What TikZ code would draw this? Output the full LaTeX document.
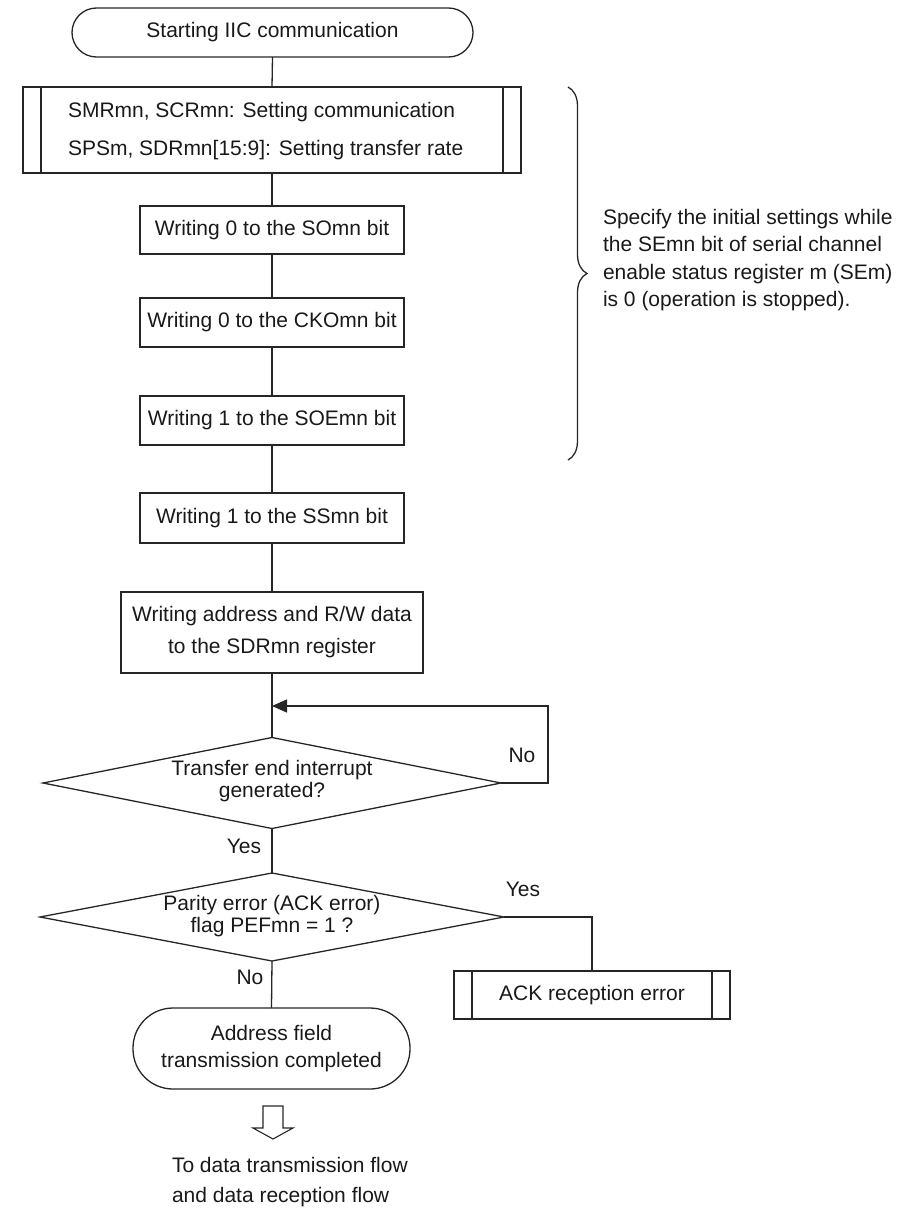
\documentclass[tikz,border=0pt]{standalone}
\usepackage{fontspec}
\setmainfont{Liberation Sans}
\usetikzlibrary{shapes.geometric,arrows.meta,decorations.pathreplacing}
\begin{document}
\begin{tikzpicture}[x=1pt,y=-1pt,
  every node/.style={font=\fontsize{21}{22}\selectfont, inner sep=0pt, outer sep=0pt, text=black!90},
  fl/.style={draw=black!85, line width=1.3pt},
  proc/.style={fl, rectangle},
  term/.style={fl, rectangle},
  dec/.style={fl, diamond},
  conn/.style={fl},
  lbl/.style={font=\fontsize{21}{22}\selectfont}
]
\useasboundingbox (0,0) rectangle (903,1210);

% start terminal
\node[term, rounded corners=24.5pt, minimum width=401pt, minimum height=49pt] (t1) at (272.5,32.5) {Starting IIC communication};

% predefined process
\node[proc, minimum width=498pt, minimum height=86pt] (pre) at (272,130) {};
\draw[fl] ([xshift=18pt]pre.north west) -- ([xshift=18pt]pre.south west);
\draw[fl] ([xshift=-18pt]pre.north east) -- ([xshift=-18pt]pre.south east);
\node[anchor=west, align=left, font=\fontsize{21}{38}\selectfont] (pretext) at (68,131)
  {SMRmn, SCRmn: Setting communication\\SPSm, SDRmn[15:9]: Setting transfer rate};

% process boxes
\node[proc, minimum width=264pt, minimum height=48pt] (b1) at (272,230) {Writing 0 to the SOmn bit};
\node[proc, minimum width=264pt, minimum height=49pt] (b2) at (272,322.5) {Writing 0 to the CKOmn bit};
\node[proc, minimum width=264pt, minimum height=49pt] (b3) at (272,420.5) {Writing 1 to the SOEmn bit};
\node[proc, minimum width=264pt, minimum height=50pt] (b4) at (272,518) {Writing 1 to the SSmn bit};
\node[proc, minimum width=302pt, minimum height=81pt, align=center, font=\fontsize{21}{32}\selectfont] (addr) at (272,632.5)
  {Writing address and R/W data\\to the SDRmn register};

% decisions
\node[dec, minimum width=458pt, minimum height=91pt] (d1) at (272,783) {};
\node[align=center] (d1text) at (272,781) {Transfer end interrupt\\generated?};
\node[dec, minimum width=464pt, minimum height=88pt] (d2) at (272,917) {};
\node[align=center] (d2text) at (272,916) {Parity error (ACK error)\\flag PEFmn = 1 ?};

% end terminal
\node[term, rounded corners=40pt, minimum width=277pt, minimum height=81pt, align=center, font=\fontsize{21}{27}\selectfont] (t2) at (271.5,1048.5)
  {Address field\\transmission completed};

% ACK error predefined process
\node[proc, minimum width=276pt, minimum height=48pt] (ack) at (592,995) {ACK reception error};
\draw[fl] ([xshift=18pt]ack.north west) -- ([xshift=18pt]ack.south west);
\draw[fl] ([xshift=-18pt]ack.north east) -- ([xshift=-18pt]ack.south east);

% connectors
\draw[conn] (t1.south) -- (pre.north);
\draw[conn] (pre.south) -- (b1.north);
\draw[conn] (b1.south) -- (b2.north);
\draw[conn] (b2.south) -- (b3.north);
\draw[conn] (b3.south) -- (b4.north);
\draw[conn] (b4.south) -- (addr.north);
\draw[conn] (addr.south) -- (d1.north);
\coordinate (join) at (272,706);
\coordinate (loopc) at (548,706);
\draw[conn, -{Triangle[length=15pt,width=13pt]}] (d1.east) -| (loopc) -- (join);
\node[lbl] (no1) at (522,755) {No};
\draw[conn] (d1.south) -- (d2.north);
\node[lbl] (yes1) at (244,846) {Yes};
\draw[conn] (d2.east) -| (ack.north);
\node[lbl] (yes2) at (523,889) {Yes};
\draw[conn] (d2.south) -- (t2.north);
\node[lbl] (no2) at (250,977) {No};

% hollow arrow
\draw[fl, line width=1.1pt] (263,1106) -- (283,1106) -- (283,1128) -- (293,1128) -- (273,1139) -- (253,1128) -- (263,1128) -- cycle;
\node[anchor=west, align=left, font=\fontsize{21}{30}\selectfont] (next) at (172,1182)
  {To data transmission flow\\and data reception flow};

% brace and note
\draw[fl, decorate, decoration={brace, amplitude=19pt}] (568,87) -- (568,460);
\node[anchor=west, align=left, font=\fontsize{21}{27.5}\selectfont] (note) at (603,260)
  {Specify the initial settings while\\the SEmn bit of serial channel\\enable status register m (SEm)\\is 0 (operation is stopped).};
\end{tikzpicture}
\end{document}
